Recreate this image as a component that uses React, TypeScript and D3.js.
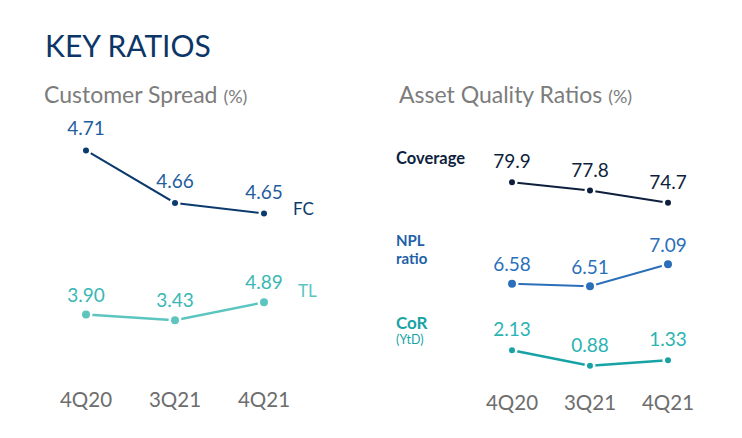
import React from "react";
import * as d3 from "d3";

const quarters = ["4Q20", "3Q21", "4Q21"];
const fcValues = [4.71, 4.66, 4.65];
const tlValues = [3.9, 3.43, 4.89];
const coverageValues = [79.9, 77.8, 74.7];
const nplValues = [6.58, 6.51, 7.09];
const corValues = [2.13, 0.88, 1.33];

const FONT = "Lato, 'Open Sans', sans-serif";

type SeriesProps = {
  values: number[];
  decimals: number;
  x: d3.ScalePoint<string>;
  y: d3.ScaleLinear<number, number>;
  color: string;
  labelColor?: string;
  r: number;
  width: number;
  labelOffset: number;
  fontSize: number;
};

function Series({ values, decimals, x, y, color, labelColor, r, width, labelOffset, fontSize }: SeriesProps) {
  const line = d3
    .line<number>()
    .x((_, i) => x(quarters[i]) as number)
    .y((d) => y(d));
  return (
    <g>
      <path d={line(values) || ""} fill="none" stroke={color} strokeWidth={width} />
      {values.map((v, i) => (
        <circle key={"h" + i} cx={x(quarters[i]) as number} cy={y(v)} r={r + 2.5} fill="#ffffff" />
      ))}
      {values.map((v, i) => (
        <circle key={"c" + i} cx={x(quarters[i]) as number} cy={y(v)} r={r} fill={color} />
      ))}
      {values.map((v, i) => (
        <text
          key={"t" + i}
          x={x(quarters[i]) as number}
          y={y(v) - labelOffset}
          textAnchor="middle"
          fontSize={fontSize}
          fill={labelColor || color}
          fontFamily={FONT}
        >
          {v.toFixed(decimals)}
        </text>
      ))}
    </g>
  );
}

export default function App() {
  const W = 742;
  const H = 438;

  const xLeft = d3.scalePoint<string>().domain(quarters).range([86, 264]);
  const xRight = d3.scalePoint<string>().domain(quarters).range([512, 668]);

  const yFC = d3.scaleLinear().domain([4.65, 4.71]).range([213.5, 150.4]);
  const yTL = d3.scaleLinear().domain([3.43, 4.89]).range([320.3, 302.3]);
  const yCov = d3.scaleLinear().domain([74.7, 79.9]).range([202.7, 182.3]);
  const yNPL = d3.scaleLinear().domain([6.51, 7.09]).range([286.3, 264.3]);
  const yCoR = d3.scaleLinear().domain([0.88, 2.13]).range([365.7, 350.3]);

  const navy = "#0b3a6e";
  const darkNavy = "#0e1f3d";
  const blue = "#2b6fba";
  const lightTeal = "#5cc5c0";
  const teal = "#17a3a5";
  const gray = "#6d6d6d";

  return (
    <svg width={W} height={H} style={{ position: "absolute", left: 0, top: 0 }} fontFamily={FONT}>
      <rect width={W} height={H} fill="#ffffff" />
      <text x={45} y={57} fontSize={30} fill="#0d3668">KEY RATIOS</text>

      <text x={44} y={103} fontSize={23} fill="#7c7c7c">
        Customer Spread <tspan fontSize={18}>(%)</tspan>
      </text>
      <text x={399} y={103} fontSize={23} fill="#7c7c7c">
        Asset Quality Ratios <tspan fontSize={18}>(%)</tspan>
      </text>

      <Series values={fcValues} decimals={2} x={xLeft} y={yFC} color={navy} labelColor="#1f5d9e" r={3} width={2} labelOffset={15} fontSize={19} />
      <Series values={tlValues} decimals={2} x={xLeft} y={yTL} color={lightTeal} labelColor="#3ab7b5" r={4} width={2.5} labelOffset={13} fontSize={19} />
      <text x={293} y={215} fontSize={17} fill={navy}>FC</text>
      <text x={298} y={297} fontSize={17} fill={lightTeal}>TL</text>

      {quarters.map((q) => (
        <text key={"xl" + q} x={xLeft(q) as number} y={407} textAnchor="middle" fontSize={20.5} fill={gray}>
          {q}
        </text>
      ))}

      <Series values={coverageValues} decimals={1} x={xRight} y={yCov} color={darkNavy} r={3} width={2} labelOffset={14} fontSize={19} />
      <Series values={nplValues} decimals={2} x={xRight} y={yNPL} color={blue} r={4} width={2} labelOffset={12.5} fontSize={19} />
      <Series values={corValues} decimals={2} x={xRight} y={yCoR} color={teal} labelColor="#2bb3b3" r={3} width={2.5} labelOffset={14} fontSize={19} />

      <text x={396} y={164} fontSize={16.5} fontWeight="bold" fill={darkNavy}>Coverage</text>
      <text x={396} y={246} fontSize={15} fontWeight="bold" fill="#1e5fa8">NPL</text>
      <text x={396} y={264} fontSize={15} fontWeight="bold" fill="#1e5fa8">ratio</text>
      <text x={396} y={328.5} fontSize={17} fontWeight="bold" fill={teal}>CoR</text>
      <text x={396} y={344} fontSize={12.5} fill={teal}>(YtD)</text>

      {quarters.map((q) => (
        <text key={"xr" + q} x={xRight(q) as number} y={410} textAnchor="middle" fontSize={20.5} fill={gray}>
          {q}
        </text>
      ))}
    </svg>
  );
}
